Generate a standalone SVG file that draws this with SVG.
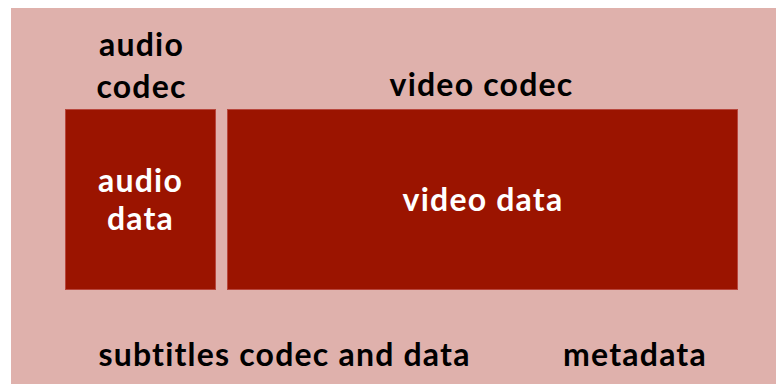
<svg xmlns="http://www.w3.org/2000/svg" width="776" height="384" viewBox="0 0 776 384">
<style>
.lbl{font-family:Lato,"Liberation Sans",sans-serif;font-weight:bold;font-size:32px;letter-spacing:1.2px;text-anchor:middle;fill:#000}
.in{fill:#fff}
.box{fill:#9b1400;stroke:#b8463c;stroke-width:1}
</style>
<rect x="0" y="0" width="776" height="384" fill="#fff"/>
<rect x="11" y="8" width="765" height="376" fill="#dfb1ac"/>
<g id="audio-codec-label"><text class="lbl" x="141.5" y="56">audio</text><text class="lbl" x="141.5" y="98">codec</text></g>
<g id="video-codec-label"><text class="lbl" x="481.5" y="96">video codec</text></g>
<g id="audio-data"><rect class="box" x="65.5" y="109.5" width="150" height="180"/><text class="lbl in" x="140.5" y="192">audio</text><text class="lbl in" x="140.5" y="230">data</text></g>
<g id="video-data"><rect class="box" x="227.5" y="109.5" width="510" height="180"/><text class="lbl in" x="483" y="211">video data</text></g>
<g id="subtitles"><text class="lbl" x="284.5" y="366">subtitles codec and data</text></g>
<g id="metadata"><text class="lbl" x="635" y="366">metadata</text></g>
<g id="connectors"/>
</svg>
